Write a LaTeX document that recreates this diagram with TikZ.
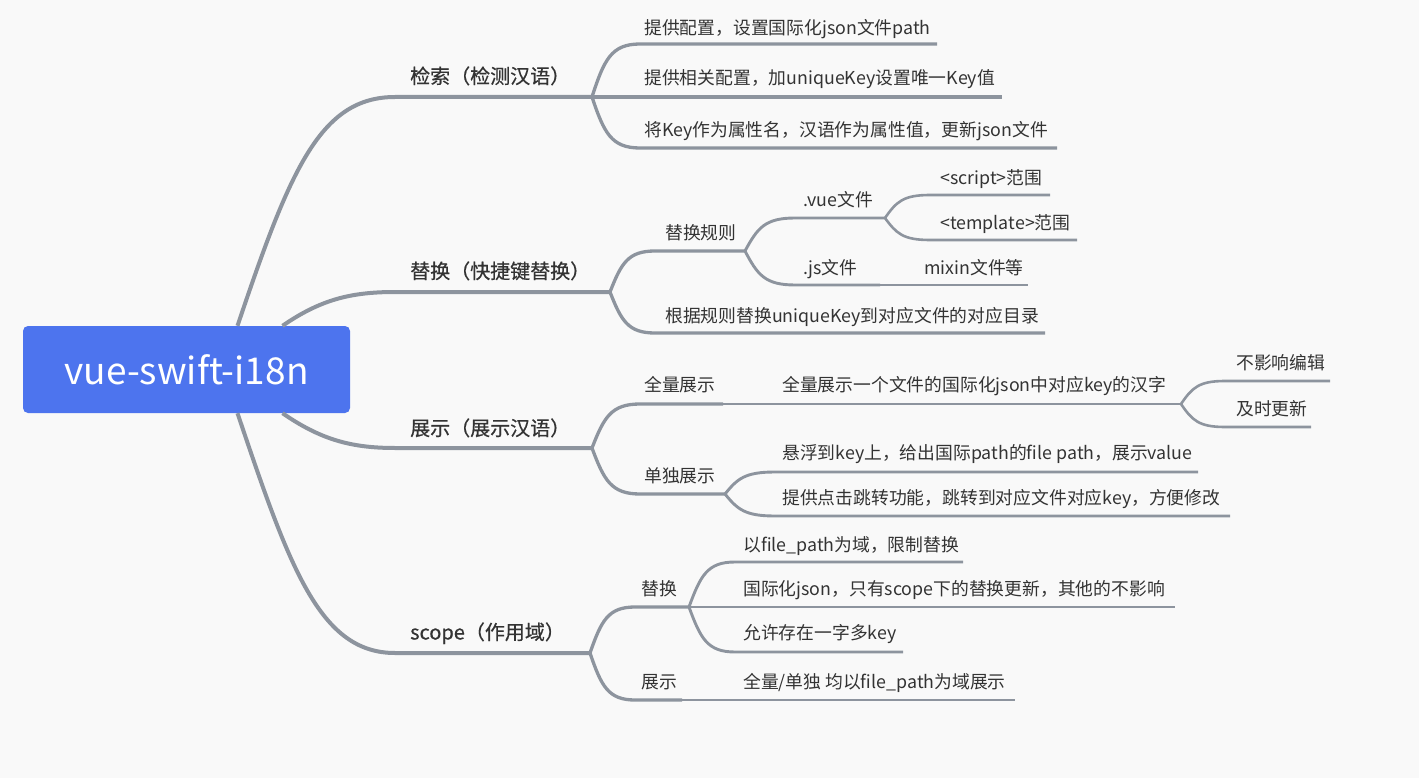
\documentclass[tikz,border=0pt]{standalone}
\usepackage{fontspec}
\setmainfont{Noto Sans CJK SC}
\newfontfamily\topfont[FakeBold=0.5]{Noto Sans CJK SC}
\usetikzlibrary{calc}
\definecolor{bgc}{RGB}{249,249,249}
\definecolor{rootblue}{RGB}{77,116,238}
\definecolor{linegray}{RGB}{141,148,158}
\definecolor{txtgray}{RGB}{51,51,51}
\tikzset{
  stem/.style={to path={let \p1=(\tikztostart), \p2=(\tikztotarget) in
    .. controls ({\x1+0.25*(\x2-\x1)},{\y1+0.7*(\y2-\y1)}) and ({\x1+0.4*(\x2-\x1)},\y2) .. (\tikztotarget)}},
  trunk/.style={line width=4pt, linegray, line join=round},
  lvlone/.style={line width=3.3pt, linegray, line join=round},
  lvltwo/.style={line width=2.9pt, linegray, line join=round},
  lvlthree/.style={line width=2.6pt, linegray, line join=round},
  toplabel/.style={anchor=west, inner sep=0pt, text=txtgray, font=\topfont\fontsize{20}{22}\selectfont, text height=17.5pt, text depth=2.5pt},
  sublabel/.style={anchor=west, inner sep=0pt, text=txtgray, font=\fontsize{17.8}{20}\selectfont, text height=15pt, text depth=2.5pt},
  rootbox/.style={fill=rootblue, rounded corners=5pt, minimum width=327pt, minimum height=87pt, inner sep=0pt, text=white, font=\fontsize{37}{40}\selectfont}
}
\begin{document}
\begin{tikzpicture}[x=1pt,y=-1pt]
  \fill[bgc] (0,0) rectangle (1419,778);
  \useasboundingbox (0,0) rectangle (1419,778);

  \node[rootbox] (root) at (186.5,369.5) {vue-swift-i18n};

  % fork points and line ends
  \coordinate (h1) at (395,97);   \coordinate (f1) at (592,97);
  \coordinate (h2) at (395,292);  \coordinate (f2) at (610,292);
  \coordinate (h3) at (395,448);  \coordinate (f3) at (592,448);
  \coordinate (h4) at (395,653);  \coordinate (f4) at (590,653);

  % main branches
  \draw[trunk] ([xshift=51pt]root.north) .. controls (290,170) and (320,97) .. (h1) -- (f1);
  \draw[trunk] ([xshift=96pt]root.north) .. controls (320,300) and (350,292) .. (h2) -- (f2);
  \draw[trunk] ([xshift=96pt]root.south) .. controls (320,439) and (350,448) .. (h3) -- (f3);
  \draw[trunk] ([xshift=51pt]root.south) .. controls (290,569) and (320,653) .. (h4) -- (f4);
  \node[toplabel] (l1) at (410,76) {检索（检测汉语）};
  \node[toplabel] (l2) at (410,271) {替换（快捷键替换）};
  \node[toplabel] (l3) at (410,428) {展示（展示汉语）};
  \node[toplabel] (l4) at (410,632) {scope（作用域）};

  % 检索
  \coordinate (s11) at (640,44);  \coordinate (e11) at (937,44);
  \coordinate (e12) at (1002,97);
  \coordinate (s13) at (640,148); \coordinate (e13) at (1057,148);
  \draw[lvlone] (f1) to[stem] (s11) -- (e11);
  \draw[lvlone] (f1) -- (e12);
  \draw[lvlone] (f1) to[stem] (s13) -- (e13);
  \node[sublabel] (l11) at (644,28) {提供配置，设置国际化json文件path};
  \node[sublabel] (l12) at (644,78) {提供相关配置，加uniqueKey设置唯一Key值};
  \node[sublabel] (l13) at (644,130) {将Key作为属性名，汉语作为属性值，更新json文件};

  % 替换
  \coordinate (s21) at (655,251);   \coordinate (f21) at (745,251);
  \coordinate (s211) at (795,218);  \coordinate (f211) at (885,218);
  \coordinate (s2111) at (930,195); \coordinate (e2111) at (1050,195);
  \coordinate (s2112) at (930,240); \coordinate (e2112) at (1077,240);
  \coordinate (s212) at (795,285);  \coordinate (f212) at (880,285);
  \coordinate (e2121) at (1028,285);
  \coordinate (s22) at (655,333);   \coordinate (e22) at (1045,333);
  \draw[lvlone] (f2) to[stem] (s21) -- (f21);
  \draw[lvltwo] (f21) to[stem] (s211) -- (f211);
  \draw[lvlthree] (f211) to[stem] (s2111) -- (e2111);
  \draw[lvlthree] (f211) to[stem] (s2112) -- (e2112);
  \draw[lvltwo] (f21) to[stem] (s212) -- (f212);
  \draw[lvlthree] (f212) -- (e2121);
  \draw[lvlone] (f2) to[stem] (s22) -- (e22);
  \node[sublabel] (l21) at (665,233) {替换规则};
  \node[sublabel] (l211) at (803,200) {.vue文件};
  \node[sublabel] (l2111) at (940,178) {<script>范围};
  \node[sublabel] (l2112) at (940,223) {<template>范围};
  \node[sublabel] (l212) at (803,268) {.js文件};
  \node[sublabel] (l2121) at (924,268) {mixin文件等};
  \node[sublabel] (l22) at (665,316) {根据规则替换uniqueKey到对应文件的对应目录};

  % 展示
  \coordinate (s31) at (640,404);   \coordinate (f31) at (723,404);
  \coordinate (f311) at (1181,404);
  \coordinate (s3111) at (1225,381); \coordinate (e3111) at (1330,381);
  \coordinate (s3112) at (1225,427); \coordinate (e3112) at (1311,427);
  \coordinate (s32) at (640,494);   \coordinate (f32) at (725,494);
  \coordinate (s321) at (775,472);  \coordinate (e321) at (1198,472);
  \coordinate (s322) at (775,516);  \coordinate (e322) at (1230,516);
  \draw[lvlone] (f3) to[stem] (s31) -- (f31);
  \draw[lvltwo] (f31) -- (f311);
  \draw[lvlthree] (f311) to[stem] (s3111) -- (e3111);
  \draw[lvlthree] (f311) to[stem] (s3112) -- (e3112);
  \draw[lvlone] (f3) to[stem] (s32) -- (f32);
  \draw[lvltwo] (f32) to[stem] (s321) -- (e321);
  \draw[lvltwo] (f32) to[stem] (s322) -- (e322);
  \node[sublabel] (l31) at (644,385) {全量展示};
  \node[sublabel] (l311) at (782,385) {全量展示一个文件的国际化json中对应key的汉字};
  \node[sublabel] (l3111) at (1236,363) {不影响编辑};
  \node[sublabel] (l3112) at (1236,409) {及时更新};
  \node[sublabel] (l32) at (644,476) {单独展示};
  \node[sublabel] (l321) at (782,453) {悬浮到key上，给出国际path的file path，展示value};
  \node[sublabel] (l322) at (782,498) {提供点击跳转功能，跳转到对应文件对应key，方便修改};

  % scope
  \coordinate (s41) at (635,607);   \coordinate (f41) at (689,607);
  \coordinate (s411) at (735,562);  \coordinate (e411) at (963,562);
  \coordinate (e412) at (1175,607);
  \coordinate (s413) at (735,652);  \coordinate (e413) at (903,652);
  \coordinate (s42) at (635,700);   \coordinate (f42) at (682,700);
  \coordinate (e421) at (1015,700);
  \draw[lvlone] (f4) to[stem] (s41) -- (f41);
  \draw[lvltwo] (f41) to[stem] (s411) -- (e411);
  \draw[lvltwo] (f41) -- (e412);
  \draw[lvltwo] (f41) to[stem] (s413) -- (e413);
  \draw[lvlone] (f4) to[stem] (s42) -- (f42);
  \draw[lvltwo] (f42) -- (e421);
  \node[sublabel] (l41) at (641,589) {替换};
  \node[sublabel] (l411) at (743,545) {以file\_path为域，限制替换};
  \node[sublabel] (l412) at (743,589) {国际化json，只有scope下的替换更新，其他的不影响};
  \node[sublabel] (l413) at (743,633) {允许存在一字多key};
  \node[sublabel] (l42) at (641,682) {展示};
  \node[sublabel] (l421) at (743,682) {全量/单独 均以file\_path为域展示};
\end{tikzpicture}
\end{document}
